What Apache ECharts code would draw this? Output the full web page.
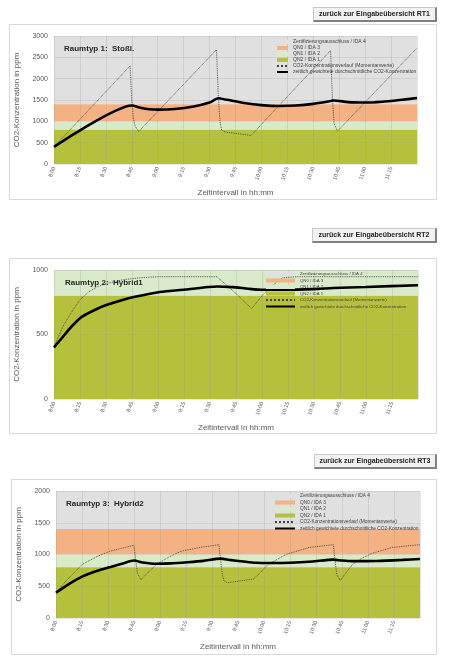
<!DOCTYPE html>
<html>
<head>
<meta charset="utf-8">
<script src="https://cdn.jsdelivr.net/npm/echarts@6/dist/echarts.min.js"></script>
<style>
  body { margin: 0; background: #fff; width: 455px; height: 666px; position: relative; overflow: hidden; }
  .box { position: absolute; border: 1px solid #d9d9d9; box-sizing: border-box; }
  .btn { position: absolute; height: 15px; background: #f2f2f2; border: 1px solid #c8c8c8;
         border-right: 2px solid #808080; border-bottom: 2px solid #808080; box-sizing: border-box;
         font: bold 7px 'Liberation Sans', Arial, sans-serif; line-height: 12px; text-align: center; color: #222;
         will-change: transform; }
</style>
</head>
<body>
<div class="btn" style="left:313px;top:7px;width:124px;">zurück zur Eingabeübersicht RT1</div>
<div class="box" id="rt1" style="left:9px;top:24px;width:428px;height:176px;"></div>
<div class="btn" style="left:312px;top:228px;width:125px;">zurück zur Eingabeübersicht RT2</div>
<div class="box" id="rt2" style="left:9px;top:258px;width:428px;height:176px;"></div>
<div class="btn" style="left:314px;top:454px;width:123px;">zurück zur Eingabeübersicht RT3</div>
<div class="box" id="rt3" style="left:11px;top:479px;width:426px;height:176px;"></div>
<script>
// x axis: minutes after 8:00
const xTickLabels = ['8:00', '8:15', '8:30', '8:45', '9:00', '9:15', '9:30', '9:45',
                     '10:00', '10:15', '10:30', '10:45', '11:00', '11:15', '11:30'];
const xMax = 210;

const legendNames = ['Zertifizierungsausschluss / IDA 4', 'QN0 / IDA 3', 'QN1 / IDA 2', 'QN2 / IDA 1',
                     'CO2-Konzentrationsverlauf (Momentanwerte)',
                     'zeitlich gewichtete durchschnittliche CO2-Konzentration'];
// quality bands (ppm)
const bandLower = [1400, 1000, 800, 0];
const bandUpper = [3000, 1400, 1000, 800];
const bandColors = ['#e0e0e0', '#f4b183', '#d8eaca', '#b5c13c'];

// Raumtyp 1: Stoßl.
const rt1DotT = [0, 44, 45, 46, 47, 49, 94, 95, 96, 97, 99, 114, 160, 161, 162, 164, 210];
const rt1DotV = [400, 2300, 1500, 1050, 880, 760, 2680, 1650, 1000, 800, 750, 670, 2660, 1600, 950, 770, 2720];
const rt1AvgT = [0, 45, 50, 55, 60, 70, 80, 90, 95, 100, 110, 120, 130, 140, 150, 160, 162, 170, 180, 190, 200, 210];
const rt1AvgV = [400, 1370, 1320, 1285, 1275, 1290, 1340, 1440, 1540, 1505, 1430, 1380, 1360, 1370, 1410, 1475, 1490, 1450, 1440, 1460, 1500, 1545];

// Raumtyp 2: Hybrid1
const rt2DotT = [0, 5, 10, 15, 20, 25, 30, 40, 50, 60, 94, 104, 114, 120, 126, 132, 140, 210];
const rt2DotV = [400, 560, 670, 770, 830, 870, 895, 925, 940, 948, 948, 830, 700, 800, 880, 940, 948, 948];
const rt2AvgT = [0, 5, 10, 16, 25, 31, 40, 46, 61, 76, 94, 103, 112, 120, 132, 150, 161, 180, 210];
const rt2AvgV = [400, 480, 560, 637, 700, 732, 770, 790, 829, 849, 872, 867, 855, 847, 847, 852, 860, 868, 882];

// Raumtyp 3: Hybrid2
const rt3DotT = [0, 5, 10, 15, 24, 31, 38, 45, 46, 47, 49, 52, 58, 65, 72, 83, 94, 95, 96, 97, 99,
                 114, 118, 122, 128, 133, 140, 146, 160, 161, 162, 164, 167, 171, 177, 183, 194, 210];
const rt3DotV = [400, 560, 700, 843, 972, 1050, 1100, 1145, 900, 700, 600, 690, 843, 960, 1050, 1111, 1155, 900, 680, 580, 555,
                 615, 720, 833, 930, 1004, 1060, 1111, 1155, 900, 680, 590, 700, 843, 950, 1024, 1111, 1155];
const rt3AvgT = [0, 5, 10, 15, 23, 31, 38, 45, 50, 58, 66, 76, 85, 95, 100, 108, 115, 125, 135, 148, 160, 165, 171, 185, 200, 210];
const rt3AvgV = [400, 490, 575, 651, 735, 801, 855, 905, 875, 855, 860, 879, 900, 935, 915, 890, 869, 865, 869, 890, 920, 905, 895, 898, 915, 930];

const font = "'Liberation Sans', Arial, sans-serif";

function pairs(t, v) {
    return t.map((x, i) => [x, v[i]]);
}

function drawChart(cfg) {
    const chart = echarts.init(document.getElementById(cfg.id));

    // colour bands behind the grid lines
    const bands = bandLower.map((lo, i) => {
        const hi = Math.min(bandUpper[i], cfg.yMax);
        return {
            name: legendNames[i], type: 'line', z: -1, silent: true, symbol: 'none',
            data: [[0, hi], [xMax, hi]],
            itemStyle: { color: bandColors[i] },
            lineStyle: { width: 0, color: bandColors[i] },
            areaStyle: { color: bandColors[i], opacity: 1, origin: Math.min(lo, cfg.yMax) }
        };
    });

    // legend icons: plain lines, no symbol dot in the middle
    const legendData = legendNames.map((n, i) => i < 4
        ? { name: n, itemStyle: { opacity: 0 }, lineStyle: { width: 4, color: bandColors[i], type: 'solid' } }
        : { name: n, itemStyle: { opacity: 0 } });

    chart.setOption({
        animation: false,
        textStyle: { fontFamily: font },
        title: {
            text: cfg.title, left: cfg.titleLeft, top: 15,
            textStyle: { fontSize: 8, fontWeight: 'bold', color: '#262626', fontFamily: font }
        },
        legend: {
            data: legendData, orient: 'vertical', left: cfg.legendLeft, top: cfg.legendTop,
            itemWidth: cfg.legendW, itemHeight: 4, itemGap: cfg.legendGap, padding: 0,
            textStyle: { fontSize: cfg.legendFont, lineHeight: 6, color: '#404040' }
        },
        grid: Object.assign({ containLabel: false, outerBoundsMode: 'none' }, cfg.grid),
        xAxis: {
            type: 'value', min: 0, max: xMax, interval: 15,
            name: 'Zeitintervall in hh:mm', nameLocation: 'middle', nameGap: 25,
            nameTextStyle: { fontSize: 8, color: '#595959' },
            axisLine: { show: false }, axisTick: { show: false },
            axisLabel: {
                rotate: 70, fontSize: 5.5, color: '#595959', margin: 3, showMaxLabel: false,
                formatter: v => xTickLabels[Math.round(v / 15)]
            },
            splitLine: { lineStyle: { color: 'rgba(150,150,150,0.35)', width: 0.7 } }
        },
        yAxis: {
            type: 'value', min: 0, max: cfg.yMax, interval: cfg.yInt,
            name: 'CO2-Konzentration in ppm', nameLocation: 'middle', nameGap: 33,
            nameTextStyle: { fontSize: 8, color: '#595959' },
            axisLine: { show: false }, axisTick: { show: false },
            axisLabel: { fontSize: 7, color: '#595959', margin: 6, formatter: v => String(v) },
            splitLine: { lineStyle: { color: 'rgba(150,150,150,0.3)', width: 0.7 } }
        },
        series: bands.concat([
            {
                name: legendNames[4], type: 'line', symbol: 'none', silent: true,
                data: pairs(cfg.dotT, cfg.dotV),
                itemStyle: { color: '#404040' },
                lineStyle: { color: '#404040', width: 0.9, type: 'dotted' }
            },
            {
                name: legendNames[5], type: 'line', symbol: 'none', silent: true, smooth: 0.2,
                data: pairs(cfg.avgT, cfg.avgV),
                itemStyle: { color: '#000' },
                lineStyle: { color: '#000', width: 2.6 }
            }
        ])
    });
    return chart;
}

drawChart({
    id: 'rt1', title: 'Raumtyp 1:  Stoßl.', titleLeft: 49, yMax: 3000, yInt: 500,
    grid: { left: 44, right: 19, top: 11, bottom: 35 },
    legendLeft: 265, legendTop: 14, legendW: 11, legendGap: 0, legendFont: 5,
    dotT: rt1DotT, dotV: rt1DotV, avgT: rt1AvgT, avgV: rt1AvgV
});
drawChart({
    id: 'rt2', title: 'Raumtyp 2:  Hybrid1', titleLeft: 50, yMax: 1000, yInt: 500,
    grid: { left: 44, right: 18, top: 11, bottom: 34 },
    legendLeft: 254, legendTop: 12, legendW: 29, legendGap: 0.5, legendFont: 4.3,
    dotT: rt2DotT, dotV: rt2DotV, avgT: rt2AvgT, avgV: rt2AvgV
});
drawChart({
    id: 'rt3', title: 'Raumtyp 3:  Hybrid2', titleLeft: 49, yMax: 2000, yInt: 500,
    grid: { left: 44, right: 16, top: 11, bottom: 36 },
    legendLeft: 261, legendTop: 13, legendW: 20, legendGap: 0.5, legendFont: 4.8,
    dotT: rt3DotT, dotV: rt3DotV, avgT: rt3AvgT, avgV: rt3AvgV
});
</script>
</body>
</html>
